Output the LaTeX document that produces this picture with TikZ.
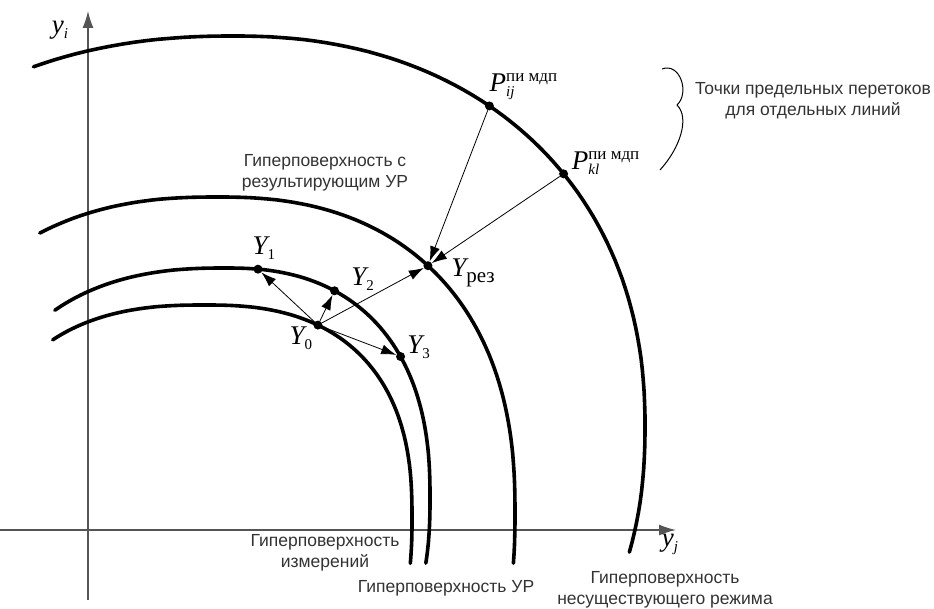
\documentclass[tikz,border=0pt]{standalone}
\usepackage{fontspec}
\setmainfont{Liberation Sans}
\newfontfamily\tms{Liberation Serif}
\usepackage{xcolor}
\usetikzlibrary{arrows.meta}
\newcommand{\lsub}[1]{\raisebox{-5pt}{\fontsize{15}{15}\selectfont #1}}
\newcommand{\lsup}[1]{\raisebox{10pt}{\fontsize{17}{17}\selectfont #1}}
\begin{document}
\begin{tikzpicture}[x=1pt,y=1pt,
  declare function={hx(\t,\c,\l,\r,\p)=\c+ifthenelse(\t>90,\l,\r)*sign(cos(\t))*(abs(cos(\t))+0.00001)^\p;
                    hy(\t,\c,\b,\p)=\c+\b*sign(sin(\t))*(abs(sin(\t))+0.00001)^\p;},
  ptdot/.style={circle,fill=black,inner sep=0pt,minimum size=9pt},
  hyper/.style={line width=3.6pt,line cap=round},
  vec/.style={-{Latex[length=15pt,width=10pt]},line width=0.8pt},
  axis/.style={-{Latex[length=17pt,width=11pt]},line width=1.4pt,draw=axisgray},
  lbl/.style={font=\tms\fontsize{27}{30}\selectfont,inner sep=0pt},
  capt/.style={font=\fontsize{17.5}{21}\selectfont,align=center,text=black!80,inner sep=0pt}]
\definecolor{axisgray}{HTML}{555555}
\useasboundingbox (0,0) rectangle (934,608);
% axes
\coordinate (xs) at (0,78);
\coordinate (xe) at (676,78);
\coordinate (ys) at (88,8);
\coordinate (ye) at (88,597);
\draw[axis] (xs) -- (xe);
\draw[axis] (ys) -- (ye);
\node[lbl] (tyi) at (60,578) {\itshape y\lsub{i}};
\node[lbl] (tyj) at (670,64) {\itshape y\lsub{j}};
% hypersurfaces: centre, left/right half-width, height, exponent, start/end angle
\foreach \cx/\cy/\al/\ar/\bb/\pp/\ta/\tb in {233/181/452/412/391/0.909/114/-16.6,
    217/95/318/298/316/0.844/120/-6.5, 225/110/253/205/230/0.833/128.4/-12.7,
    205/90/229/207/213/0.8/126.9/-8.2}
  { \draw[hyper] plot[domain=\ta:\tb,samples=90,variable=\u] ({hx(\u,\cx,\al,\ar,\pp)},{hy(\u,\cy,\bb,\pp)}); }
% points on the surfaces
\foreach \nm/\tt/\cx/\cy/\al/\ar/\bb/\pp in {Pij/53.6/233/181/452/412/391/0.909,
    Pkl/38.3/233/181/452/412/391/0.909, Yr/48.4/217/95/318/298/316/0.844,
    Y1/83.6/225/110/253/205/230/0.833, Y2/61.9/225/110/253/205/230/0.833,
    Y3/33.9/225/110/253/205/230/0.833, Y0/62.05/205/90/229/207/213/0.8}
  { \node[ptdot] (\nm) at ({hx(\tt,\cx,\al,\ar,\pp)},{hy(\tt,\cy,\bb,\pp)}) {}; }
% vectors
\draw[vec] (Y0) -- (Y1);
\draw[vec] (Y0) -- (Y2);
\draw[vec] (Y0) -- (Y3);
\draw[vec] (Y0) -- (Yr);
\draw[vec] (Pij) -- (Yr);
\draw[vec] (Pkl) -- (Yr);
% labels
\node[lbl] (lY0) at ([shift={(-17,-13)}]Y0) {\itshape Y\lsub{\upshape 0}};
\node[lbl] (lY1) at ([shift={(6,21)}]Y1) {\itshape Y\lsub{\upshape 1}};
\node[lbl] (lY2) at ([shift={(28,12)}]Y2) {\itshape Y\lsub{\upshape 2}};
\node[lbl] (lY3) at ([shift={(18,9)}]Y3) {\itshape Y\lsub{\upshape 3}};
\node[lbl] (lYr) at ([shift={(45,-7)}]Yr) {\itshape Y\raisebox{-6pt}{\upshape\fontsize{21}{21}\selectfont рез}};
\node[lbl] (lPij) at ([shift={(34,19)}]Pij) {\itshape P\rlap{\lsub{ij}}\lsup{\upshape пи мдп}};
\node[lbl] (lPkl) at ([shift={(42,11)}]Pkl) {\itshape P\rlap{\lsub{kl}}\lsup{\upshape пи мдп}};
% captions
\node[capt] (tRes) at (325,435) {Гиперповерхность с\\результирующим УР};
\node[capt] (tMeas) at (325,55) {Гиперповерхность\\измерений};
\node[capt] (tUR) at (446,20) {Гиперповерхность УР};
\node[capt] (tNon) at (665,18) {Гиперповерхность\\несуществующего режима};
\node[capt] (tPts) at (813,507) {Точки предельных перетоков\\для отдельных линий};
\draw[line width=1pt] (662,539) .. controls (680,546) and (690,515) .. (677,503) .. controls (690,490) and (680,460) .. (660,438);
\end{tikzpicture}
\end{document}
